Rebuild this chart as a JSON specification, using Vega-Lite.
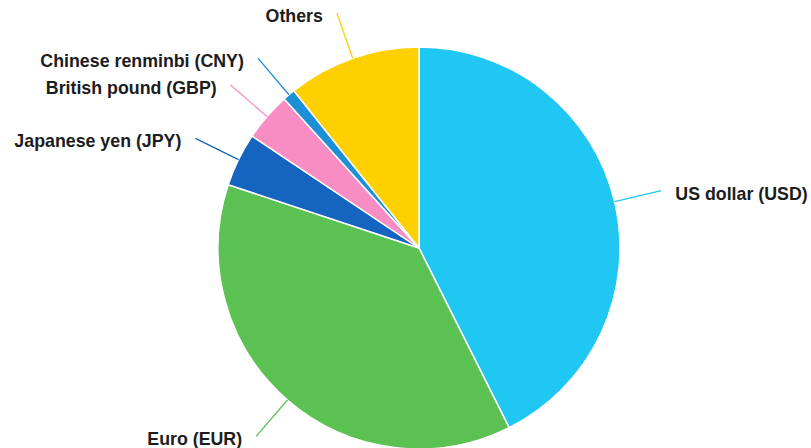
{
  "$schema": "https://vega.github.io/schema/vega-lite/v6.json",
  "autosize": {"type": "none"},
  "width": 784,
  "height": 400,
  "padding": {"left": 27, "top": 48, "right": 0, "bottom": 0},
  "background": "white",
  "config": {"view": {"stroke": null}},
  "data": {
    "values": [
      {"currency": "US dollar (USD)", "share": 42.6},
      {"currency": "Euro (EUR)", "share": 37.5},
      {"currency": "Japanese yen (JPY)", "share": 4.3},
      {"currency": "British pound (GBP)", "share": 3.9},
      {"currency": "Chinese renminbi (CNY)", "share": 1.0},
      {"currency": "Others", "share": 10.7}
    ]
  },
  "transform": [
    {"window": [{"op": "sum", "field": "share", "as": "cum"}], "frame": [null, 0]},
    {"joinaggregate": [{"op": "sum", "field": "share", "as": "total"}]},
    {"calculate": "datum.cum - datum.share", "as": "start"},
    {"calculate": "(datum.cum - datum.share / 2) / datum.total * 2 * PI", "as": "ang"},
    {"calculate": "201 * sin(datum.ang)", "as": "ex"},
    {"calculate": "201 * cos(datum.ang)", "as": "ey"},
    {"calculate": "249 * sin(datum.ang)", "as": "lx"},
    {"calculate": "249 * cos(datum.ang)", "as": "ly"}
  ],
  "layer": [
    {
      "mark": {"type": "arc", "outerRadius": 201, "stroke": "white", "strokeWidth": 1.5},
      "encoding": {
        "theta": {"field": "start", "type": "quantitative", "stack": null, "scale": {"domain": [0, 100]}},
        "theta2": {"field": "cum"},
        "color": {
          "field": "currency",
          "type": "nominal",
          "legend": null,
          "scale": {
            "domain": ["US dollar (USD)", "Euro (EUR)", "Japanese yen (JPY)", "British pound (GBP)", "Chinese renminbi (CNY)", "Others"],
            "range": ["#20c7f2", "#5bc152", "#1565c0", "#f78dc2", "#1c8fd6", "#ffd000"]
          }
        }
      }
    },
    {
      "mark": {"type": "rule", "strokeWidth": 1.3},
      "encoding": {
        "x": {"field": "ex", "type": "quantitative", "axis": null, "scale": {"domain": [-392, 392], "nice": false, "zero": false}},
        "y": {"field": "ey", "type": "quantitative", "axis": null, "scale": {"domain": [-200, 200], "nice": false, "zero": false}},
        "x2": {"field": "lx"},
        "y2": {"field": "ly"},
        "color": {"field": "currency", "type": "nominal", "legend": null}
      }
    },
    {
      "transform": [{"filter": "datum.lx >= 0"}],
      "mark": {"type": "text", "align": "left", "baseline": "middle", "dx": 14, "dy": 4, "font": "Liberation Sans", "fontWeight": "bold", "fontSize": 17.8, "color": "#1c1c1c"},
      "encoding": {
        "x": {"field": "lx", "type": "quantitative"},
        "y": {"field": "ly", "type": "quantitative"},
        "text": {"field": "currency"}
      }
    },
    {
      "transform": [{"filter": "datum.lx < 0"}],
      "mark": {"type": "text", "align": "right", "baseline": "middle", "dx": -14, "dy": 4, "font": "Liberation Sans", "fontWeight": "bold", "fontSize": 17.8, "color": "#1c1c1c"},
      "encoding": {
        "x": {"field": "lx", "type": "quantitative"},
        "y": {"field": "ly", "type": "quantitative"},
        "text": {"field": "currency"}
      }
    }
  ],
  "resolve": {"scale": {"x": "shared", "y": "shared"}}
}
